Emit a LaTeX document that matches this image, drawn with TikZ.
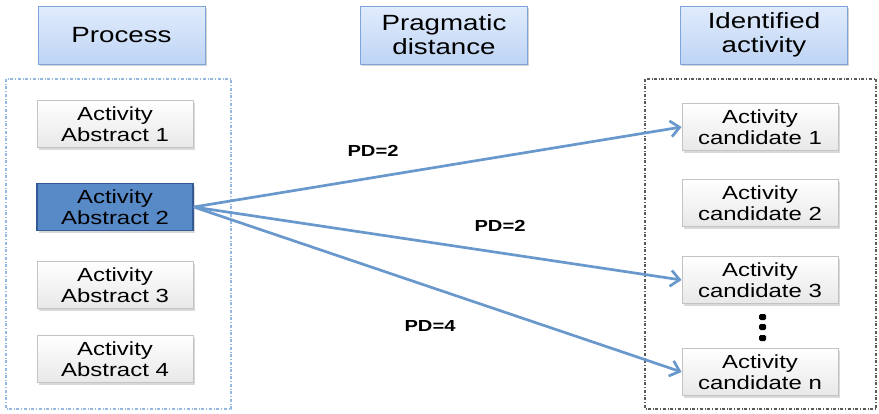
\documentclass[tikz,border=0pt]{standalone}
\usepackage{fontspec}
\setmainfont{Liberation Sans}[FakeStretch=1.26]
\usetikzlibrary{arrows.meta,shadows}
\definecolor{hdrborder}{RGB}{125,165,220}
\definecolor{hdrtop}{RGB}{225,236,252}
\definecolor{hdrbot}{RGB}{190,212,245}
\definecolor{actborder}{RGB}{195,195,195}
\definecolor{actbot}{RGB}{232,232,232}
\definecolor{selfill}{RGB}{88,138,200}
\definecolor{selborder}{RGB}{50,90,150}
\definecolor{arrowc}{RGB}{105,152,205}
\definecolor{leftdash}{RGB}{150,185,225}
\definecolor{rightdash}{RGB}{90,90,90}
\tikzset{
  hdr/.style={draw=hdrborder, line width=1pt, top color=hdrtop, bottom color=hdrbot,
    minimum width=167pt, minimum height=58pt, align=center, font=\fontsize{22}{24}\selectfont,
    drop shadow={shadow xshift=1.5pt, shadow yshift=-2pt, opacity=0.35}},
  act/.style={draw=actborder, line width=0.8pt, top color=white, bottom color=actbot,
    minimum width=156pt, minimum height=47pt, align=center, font=\fontsize{19}{21}\selectfont,
    drop shadow={shadow xshift=1.5pt, shadow yshift=-2pt, opacity=0.3}},
  sel/.style={act, draw=selborder, line width=1.5pt, fill=selfill, top color=selfill, bottom color=selfill},
  cont/.style={dash dot, line width=1.3pt},
  link/.style={draw=arrowc, line width=2.7pt, -{Straight Barb[length=9pt,width=16pt]}},
  pd/.style={font=\fontsize{16}{18}\selectfont\bfseries, inner sep=0pt},
  dot/.style={fill=black, rounded corners=1.5pt}
}
\begin{document}
\begin{tikzpicture}[x=1pt,y=-1pt]
\useasboundingbox (0,0) rectangle (879,413);
% containers
\draw[cont, draw=leftdash] (6,79) rectangle (231,409);
\draw[cont, draw=rightdash] (645,79) rectangle (876,409);
% headers
\node[hdr] (hproc) at (121.5,35) {Process};
\node[hdr] (hpd) at (444,35) {Pragmatic\\distance};
\node[hdr] (hid) at (764,35) {Identified\\activity};
% left activities
\node[act] (a1) at (115,124) {Activity\\Abstract 1};
\node[sel] (a2) at (115,207) {Activity\\Abstract 2};
\node[act] (a3) at (115,285) {Activity\\Abstract 3};
\node[act] (a4) at (115,359) {Activity\\Abstract 4};
% right candidates
\node[act] (c1) at (760,127) {Activity\\candidate 1};
\node[act] (c2) at (760,203) {Activity\\candidate 2};
\node[act] (c3) at (760,280) {Activity\\candidate 3};
\node[act] (cn) at (760,372) {Activity\\candidate n};
% vertical ellipsis
\fill[dot] (759,314) rectangle (766,320);
\fill[dot] (759,324) rectangle (766,330);
\fill[dot] (759,335) rectangle (766,341);
% arrows
\draw[link] (a2.east) -- (c1.west);
\draw[link] (a2.east) -- (c3.west);
\draw[link] (a2.east) -- (cn.west);
% labels
\node[pd] (l1) at (373,151) {PD=2};
\node[pd] (l2) at (500,226) {PD=2};
\node[pd] (l3) at (430,326) {PD=4};
\end{tikzpicture}
\end{document}
